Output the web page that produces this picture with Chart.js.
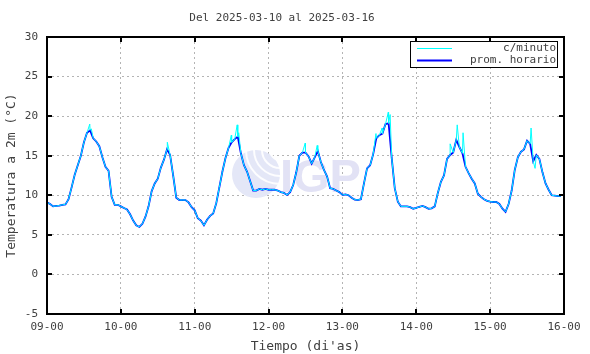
<!DOCTYPE html>
<html>
<head>
<meta charset="utf-8">
<script src="https://cdn.jsdelivr.net/npm/chart.js@4/dist/chart.umd.min.js"></script>
<style>
  html, body { margin: 0; padding: 0; background: #fff; }
</style>
</head>
<body>
<canvas id="chart" width="590" height="354"></canvas>
<script>
const titleText = 'Del 2025-03-10 al 2025-03-16';
const dayLabels = ['09-00', '10-00', '11-00', '12-00', '13-00', '14-00', '15-00', '16-00'];
const yTicks = [-5, 0, 5, 10, 15, 20, 25, 30];

// promedio horario, one value per hour, per day
const day1 = [9.1, 8.9, 8.6, 8.65, 8.7, 8.8, 8.85, 9.5, 11.0, 12.6, 13.8, 15.0, 16.7, 17.9, 18.2, 17.2, 16.8, 16.2, 14.8, 13.6, 13.1, 9.8, 8.8, 8.8];
const day2 = [8.6, 8.4, 8.2, 7.6, 6.8, 6.2, 6.0, 6.4, 7.3, 8.6, 10.5, 11.5, 12.1, 13.5, 14.5, 15.8, 15.1, 12.5, 9.7, 9.4, 9.4, 9.4, 9.1, 8.5];
const day3 = [8.1, 7.1, 6.8, 6.2, 6.9, 7.4, 7.7, 9.0, 11.0, 13.0, 14.7, 16.0, 16.7, 17.1, 17.4, 15.3, 13.8, 13.0, 11.8, 10.6, 10.6, 10.8, 10.7, 10.8];
const day4 = [10.7, 10.7, 10.7, 10.6, 10.4, 10.3, 10.05, 10.4, 11.3, 12.9, 15.0, 15.4, 15.4, 14.9, 14.0, 14.8, 15.6, 14.2, 13.2, 12.4, 10.9, 10.8, 10.6, 10.4];
const day5 = [10.05, 10.1, 10.0, 9.7, 9.45, 9.4, 9.5, 11.5, 13.4, 13.8, 15.2, 17.2, 17.6, 17.8, 19.0, 19.1, 14.8, 10.9, 9.2, 8.6, 8.6, 8.6, 8.5, 8.3];
const day6 = [8.4, 8.55, 8.65, 8.5, 8.3, 8.35, 8.6, 10.3, 11.7, 12.5, 14.6, 15.1, 15.4, 17.0, 16.1, 15.3, 13.6, 12.8, 12.1, 11.5, 10.2, 9.8, 9.5, 9.3];
const day7 = [9.2, 9.15, 9.15, 8.9, 8.3, 7.9, 8.9, 10.6, 13.2, 14.8, 15.5, 15.8, 16.9, 16.5, 14.3, 15.1, 14.6, 12.9, 11.5, 10.7, 10.0, 9.95, 9.9, 9.9];

// per-minute peaks that stick out above the hourly line: [hour since start, value]
const minuteSpikes = [
    [13.9, 19.0], [14.4, 18.4], [39.1, 16.7], [59.9, 17.6], [61.8, 18.9], [62.3, 17.9],
    [83.9, 16.6], [87.8, 16.3], [106.9, 17.8], [108.9, 18.5], [110.9, 20.5], [111.5, 20.2],
    [131.0, 16.5], [133.3, 18.9], [135.2, 17.9], [157.3, 18.5], [158.6, 13.4]
];

const hourly = [].concat(day1, day2, day3, day4, day5, day6, day7);
const hourlyPoints = hourly.map((v, i) => ({ x: i, y: v }));
const minutePoints = hourlyPoints
    .concat(minuteSpikes.map(p => ({ x: p[0], y: p[1] })))
    .sort((a, b) => a.x - b.x);

const FONT = 'DejaVu Sans Mono';
const TEXT = '#404040';

const logoPlugin = {
    id: 'logo',
    beforeDatasetsDraw(chart) {
        const ctx = chart.ctx;
        ctx.save();
        ctx.beginPath();
        ctx.arc(256, 174, 24, 0, Math.PI * 2);
        ctx.fillStyle = 'rgb(228, 231, 247)';
        ctx.fill();
        ctx.strokeStyle = 'rgba(255,255,255,0.9)';
        ctx.lineWidth = 2;
        for (let r = 10; r <= 34; r += 8) {
            ctx.beginPath();
            ctx.arc(280, 150, r, Math.PI * 0.5, Math.PI * 1.0);
            ctx.stroke();
        }
        ctx.font = 'bold 47px "Liberation Sans"';
        ctx.fillStyle = 'rgb(226, 226, 245)';
        ctx.textBaseline = 'alphabetic';
        ctx.fillText('IGP', 280, 192);
        ctx.restore();
    }
};

const framePlugin = {
    id: 'frame',
    afterDraw(chart) {
        const { ctx, chartArea: a, scales } = chart;
        ctx.save();
        ctx.strokeStyle = '#000';
        ctx.lineWidth = 2;
        ctx.strokeRect(a.left, a.top, a.right - a.left, a.bottom - a.top);
        ctx.beginPath();
        const tl = 5;
        for (let d = 1; d < dayLabels.length - 1; d++) {
            const x = Math.round(scales.x.getPixelForValue(d * 24));
            ctx.moveTo(x, a.bottom); ctx.lineTo(x, a.bottom - tl);
            ctx.moveTo(x, a.top); ctx.lineTo(x, a.top + tl);
        }
        for (let i = 1; i < yTicks.length - 1; i++) {
            const y = Math.round(scales.y.getPixelForValue(yTicks[i]));
            ctx.moveTo(a.left, y); ctx.lineTo(a.left + tl, y);
            ctx.moveTo(a.right, y); ctx.lineTo(a.right - tl, y);
        }
        ctx.stroke();

        // legend box
        const bx = 410, by = 41, bw = 147, bh = 26;
        ctx.fillStyle = '#fff';
        ctx.fillRect(bx, by, bw, bh);
        ctx.lineWidth = 1;
        ctx.strokeStyle = '#000';
        ctx.strokeRect(bx + 0.5, by + 0.5, bw, bh);
        ctx.font = '11px "' + FONT + '"';
        ctx.textAlign = 'right';
        ctx.textBaseline = 'middle';
        chart.data.datasets.forEach((ds, i) => {
            const y = by + 7 + i * 12;
            ctx.strokeStyle = ds.borderColor;
            ctx.lineWidth = ds.borderWidth;
            ctx.beginPath();
            ctx.moveTo(417, y + 0.5);
            ctx.lineTo(452, y + 0.5);
            ctx.stroke();
            ctx.fillStyle = TEXT;
            ctx.fillText(ds.label, 556, y);
        });
        ctx.restore();
    }
};

new Chart(document.getElementById('chart'), {
    type: 'line',
    data: {
        datasets: [
            {
                label: 'c/minuto',
                data: minutePoints,
                borderColor: '#00ffff',
                borderWidth: 1,
                pointRadius: 0,
                tension: 0
            },
            {
                label: 'prom. horario',
                data: hourlyPoints,
                borderColor: '#0000ff',
                borderWidth: 1.8,
                pointRadius: 0,
                tension: 0
            }
        ]
    },
    options: {
        responsive: false,
        animation: false,
        devicePixelRatio: 1,
        layout: { padding: { left: 0, right: 26, top: 0, bottom: 0 } },
        plugins: {
            legend: { display: false },
            tooltip: { enabled: false },
            title: {
                display: true,
                text: titleText,
                color: TEXT,
                font: { family: FONT, size: 11, weight: 'normal', lineHeight: 1.2 },
                padding: { top: 12, bottom: 11.8 }
            }
        },
        scales: {
            x: {
                type: 'linear',
                min: 0,
                max: 168,
                afterFit(scale) { scale.height = 40; },
                afterBuildTicks(scale) {
                    scale.ticks = dayLabels.map((l, i) => ({ value: i * 24 }));
                },
                ticks: {
                    color: TEXT,
                    padding: 7,
                    maxRotation: 0,
                    autoSkip: false,
                    font: { family: FONT, size: 11 },
                    callback: v => dayLabels[Math.round(v / 24)]
                },
                grid: { color: '#b4b4b4', lineWidth: 1, drawTicks: false },
                border: { display: false, dash: [2, 3] },
                title: {
                    display: true,
                    text: "Tiempo (di'as)",
                    color: TEXT,
                    font: { family: FONT, size: 13, lineHeight: 1.2 },
                    padding: { top: 0, bottom: 0 }
                }
            },
            y: {
                min: -5,
                max: 30,
                afterFit(scale) { scale.width = 47; },
                afterBuildTicks(scale) {
                    scale.ticks = yTicks.map(v => ({ value: v }));
                },
                ticks: {
                    color: TEXT,
                    padding: 9,
                    font: { family: FONT, size: 11 }
                },
                grid: { color: '#b4b4b4', lineWidth: 1, drawTicks: false },
                border: { display: false, dash: [2, 3] },
                title: {
                    display: true,
                    text: 'Temperatura a 2m (°C)',
                    color: TEXT,
                    font: { family: FONT, size: 13, lineHeight: 1.2 },
                    padding: { top: 4, bottom: 0 }
                }
            }
        }
    },
    plugins: [logoPlugin, framePlugin]
});
</script>
</body>
</html>
